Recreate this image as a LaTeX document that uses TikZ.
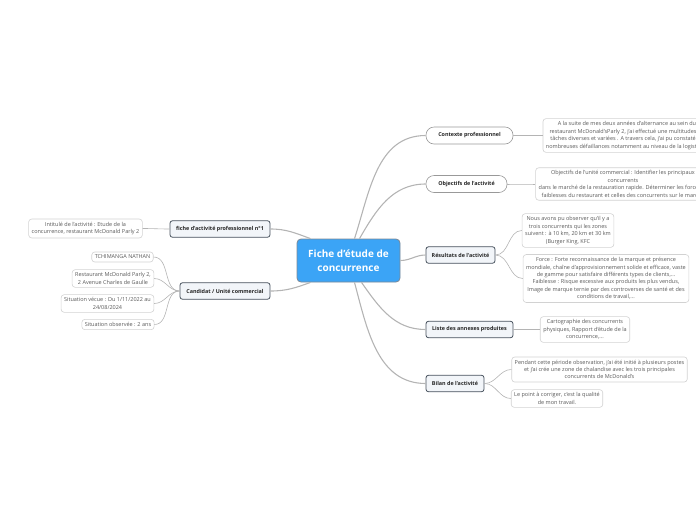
\documentclass[tikz,border=0pt]{standalone}
\usepackage{fontspec}
\setmainfont{Open Sans}
\usepackage{tikz}
\usetikzlibrary{positioning}
\definecolor{mblue}{HTML}{3BA4F6}
\definecolor{mframe}{HTML}{7D8894}
\definecolor{mdark}{HTML}{46505C}
\definecolor{mpale}{HTML}{F2F5F9}
\definecolor{mline}{HTML}{B4B4B4}
\definecolor{mleaf}{HTML}{D2D2D2}
\definecolor{mtext}{HTML}{5A5A5A}

\begin{document}
\begin{tikzpicture}[x=1pt, y=1pt,
  rootbox/.style={draw=mframe, fill=mblue, rounded corners=4pt, line width=0.8pt,
    text=white, align=center, font=\fontsize{10}{14.5}\selectfont\bfseries,
    minimum width=103pt, minimum height=43pt, inner sep=2pt},
  branch/.style={draw=mdark, fill=mpale, rounded corners=2.5pt, line width=0.8pt,
    text=black!85, font=\fontsize{5.4}{6.5}\selectfont\bfseries,
    minimum height=16.5pt, inner sep=2pt},
  topic/.style={draw=black!40, fill=white, rounded corners=8pt, line width=0.6pt,
    text=black!85, font=\fontsize{5.4}{6.5}\selectfont\bfseries,
    minimum height=17pt, inner sep=2pt},
  leaf/.style={draw=mleaf, fill=white, rounded corners=3pt, line width=0.6pt,
    text=mtext, align=center, font=\fontsize{5.5}{7.4}\selectfont, inner sep=3pt},
  limb/.style={draw=mline, line width=1.1pt},
  twig/.style={draw=mline, line width=0.6pt}]
\useasboundingbox (0,0) rectangle (696,-520);

\node[rootbox] (root) at (348.5,-260.5) {Fiche d'étude de\\concurrence};

% right side
\node[topic, minimum width=87pt] (ctx) at (469.5,-135.5) {Contexte professionnel};
\node[topic, minimum width=81pt] (obj) at (466.5,-184) {Objectifs de l'activité};
\node[branch, minimum width=69pt] (res) at (460.5,-255) {Résultats de l'activité};
\node[branch, minimum width=87pt] (ann) at (469.5,-329.5) {Liste des annexes produites};
\node[branch, minimum width=58pt] (bil) at (455,-383.5) {Bilan de l'activité};

\node[leaf] (ctx1) at (627,-135.5) {A la suite de mes deux années d'alternance au sein du\\
  restaurant McDonald'sParly 2, j'ai effectué une multitudes de\\
  tâches diverses et variées . A travers cela, j'ai pu constaté de\\
  nombreuses défaillances notamment au niveau de la logistique};
\node[leaf] (obj1) at (623,-184) {Objectifs de l'unité commercial : Identifier les principaux\\
  concurrents\\
  dans le marché de la restauration rapide. Déterminer les forces et\\
  faiblesses du restaurant et celles des concurrents sur le marché};
\node[leaf] (res1) at (568,-230.5) {Nous avons pu observer qu'il y a\\
  trois concurrents qui les zones\\
  suivent : à 10 km, 20 km et 30 km\\
  (Burger King, KFC};
\node[leaf] (res2) at (606,-278.5) {Force : Forte reconnaissance de la marque et présence\\
  mondiale, chaîne d'approvisionnement solide et efficace, vaste\\
  de gamme pour satisfaire différents types de clients,...\\
  Faiblesse : Risque excessive aux produits les plus vendus,\\
  Image de marque ternie par des controverses de santé et des\\
  conditions de travail,...};
\node[leaf] (ann1) at (585,-329.5) {Cartographie des concurrents\\
  physiques, Rapport d'étude de la\\
  concurrence,...};
\node[leaf] (bil1) at (599.5,-369.5) {Pendant cette période observation, j'ai été initié à plusieurs postes\\
  et j'ai crée une zone de chalandise avec les trois principales\\
  concurrents de McDonald's};
\node[leaf] (bil2) at (557,-398.5) {Le point à corriger, c'est la qualité\\
  de mon travail.};

% left side
\node[branch, minimum width=100pt] (fiche) at (220,-229) {fiche d'activité professionnel n°1};
\node[branch, minimum width=90pt] (cand) at (225,-291) {Candidat / Unité commercial};

\node[leaf] (fic1) at (85.5,-228.5) {Intitulé de l'activité : Etude de la\\
  concurrence, restaurant McDonald Parly 2};
\node[leaf] (cnd1) at (122.5,-257) {TCHIMANGA NATHAN};
\node[leaf] (cnd2) at (113,-278.5) {Restaurant McDonald Parly 2,\\
  2 Avenue Charles de Gaulle};
\node[leaf] (cnd3) at (107.5,-303.5) {Situation vécue : Du 1/11/2022 au\\
  24/08/2024};
\node[leaf] (cnd4) at (118,-324.5) {Situation observée : 2 ans};

% root to branches
\draw[limb] ([xshift=6pt]root.north) to[out=72, in=180] (ctx.west);
\draw[limb] ([xshift=11pt]root.north) to[out=60, in=180] (obj.west);
\draw[limb] (root.east) to[out=0, in=180] (res.west);
\draw[limb] ([xshift=13pt]root.south) to[out=-55, in=180] (ann.west);
\draw[limb] ([xshift=6pt]root.south) to[out=-75, in=180] (bil.west);
\draw[limb] ([xshift=-38pt]root.north) to[out=160, in=0] (fiche.east);
\draw[limb] ([xshift=-38pt]root.south) to[out=200, in=0] (cand.east);

% branches to leaves
\draw[twig] (ctx.east) to[out=0, in=180] (ctx1.west);
\draw[twig] (obj.east) to[out=0, in=180] (obj1.west);
\draw[twig] (res.east) to[out=0, in=180] (res1.west);
\draw[twig] (res.east) to[out=0, in=180] (res2.west);
\draw[twig] (ann.east) to[out=0, in=180] (ann1.west);
\draw[twig] (bil.east) to[out=0, in=180] (bil1.west);
\draw[twig] (bil.east) to[out=0, in=180] (bil2.west);
\draw[twig] (fiche.west) to[out=180, in=0] (fic1.east);
\draw[twig] (cand.west) to[out=180, in=0] (cnd1.east);
\draw[twig] (cand.west) to[out=180, in=0] (cnd2.east);
\draw[twig] (cand.west) to[out=180, in=0] (cnd3.east);
\draw[twig] (cand.west) to[out=180, in=0] (cnd4.east);
\end{tikzpicture}
\end{document}
